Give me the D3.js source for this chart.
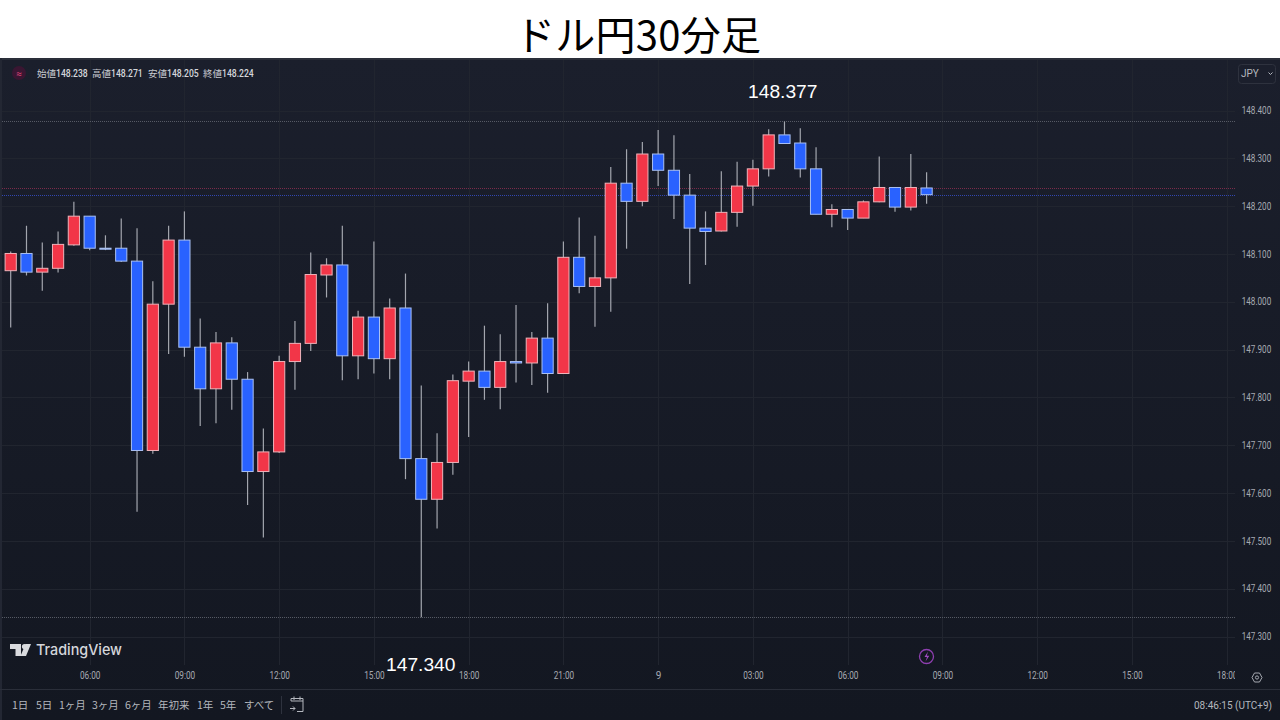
<!DOCTYPE html>
<html><head><meta charset="utf-8">
<style>html,body{margin:0;padding:0;background:#fff;overflow:hidden}svg{display:block}</style>
<script src="https://cdn.jsdelivr.net/npm/d3@7"></script></head>
<body><svg id="c" width="1280" height="720"></svg>
<script>
const titleText = "ドル円30分足";
const opens = [148.065,148.101,148.062,148.070,148.119,148.179,148.112,148.112,148.085,147.689,147.995,148.129,147.905,147.818,147.914,147.838,147.645,147.686,147.875,147.913,148.056,148.077,147.887,147.968,147.881,147.987,147.672,147.587,147.664,147.834,147.855,147.821,147.875,147.872,147.924,147.850,148.093,148.032,148.050,148.248,148.210,148.309,148.275,148.223,148.154,148.148,148.187,148.242,148.278,148.349,148.332,148.278,148.183,148.193,148.175,148.209,148.239,148.198,148.238];
const highs = [148.105,148.159,148.124,148.147,148.209,148.179,148.139,148.174,148.154,148.043,148.159,148.189,147.965,147.937,147.926,147.853,147.735,147.887,147.960,148.103,148.091,148.159,147.981,148.126,148.007,148.059,147.825,147.725,147.848,147.875,147.950,147.932,147.993,147.937,147.997,148.126,148.176,148.138,148.282,148.319,148.334,148.359,148.348,148.267,148.189,148.273,148.293,148.297,148.361,148.377,148.363,148.323,148.204,148.193,148.212,148.304,148.239,148.309,148.271];
const lows = [147.946,148.055,148.023,148.061,148.117,148.108,148.108,148.083,147.561,147.682,147.891,147.885,147.740,147.746,147.774,147.575,147.507,147.684,147.816,147.897,148.009,147.836,147.838,147.850,147.838,147.629,147.340,147.526,147.638,147.717,147.795,147.775,147.831,147.826,147.810,147.850,148.018,147.948,147.979,148.111,148.200,148.242,148.173,148.037,148.077,148.147,148.157,148.201,148.262,148.331,148.260,148.183,148.156,148.150,148.175,148.208,148.188,148.191,148.205];
const closes = [148.101,148.062,148.070,148.120,148.179,148.112,148.111,148.085,147.689,147.995,148.129,147.905,147.818,147.914,147.838,147.645,147.686,147.875,147.913,148.057,148.077,147.887,147.968,147.881,147.987,147.672,147.587,147.664,147.835,147.855,147.821,147.875,147.872,147.924,147.850,148.093,148.032,148.050,148.248,148.210,148.309,148.275,148.223,148.154,148.147,148.187,148.242,148.278,148.349,148.331,148.278,148.183,148.193,148.175,148.209,148.239,148.198,148.239,148.224];
const priceTicks = [148.4,148.3,148.2,148.1,148.0,147.9,147.8,147.7,147.6,147.5,147.4,147.3];
const timeTickIndex = [5,11,17,23,29,35,41,47,53,59,65,71,77];
const timeTickLabels = ["06:00","09:00","12:00","15:00","18:00","21:00","9","03:00","06:00","09:00","12:00","15:00","18:00"];
const maxLabel = "148.377", minLabel = "147.340";
const maxLevel = 148.377, minLevel = 147.340, openLevel = 148.238, closeLevel = 148.224;
const legendNames = ["始値","高値","安値","終値"];
const legendValues = ["148.238","148.271","148.205","148.224"];
const rangeButtons = ["1日","5日","1ヶ月","3ヶ月","6ヶ月","年初来","1年","5年","すべて"];
const clockText = "08:46:15 (UTC+9)";

const svg = d3.select("#c");
const UI = "Roboto, 'Noto Sans CJK JP', sans-serif";
const JP = "'Noto Sans CJK JP', Roboto, sans-serif";
const defs = svg.append("defs");
const g = defs.append("linearGradient").attr("id","bg").attr("x1",0).attr("x2",0).attr("y1",0).attr("y2",1);
g.append("stop").attr("offset","0%").attr("stop-color","#1b1f2c");
g.append("stop").attr("offset","100%").attr("stop-color","#131721");
defs.append("clipPath").attr("id","timeClip").append("rect").attr("x",0).attr("y",660).attr("width",1235).attr("height",30);

const x = d3.scaleLinear().domain([0,58]).range([10.7,926.6]);
const y = d3.scaleLinear().domain([147.3,148.4]).range([636.5,110.5]);

svg.append("rect").attr("x",0).attr("y",0).attr("width",1280).attr("height",58).attr("fill","#fff");
svg.append("rect").attr("x",0).attr("y",58).attr("width",1280).attr("height",662).attr("fill","url(#bg)");
svg.append("rect").attr("x",0).attr("y",58).attr("width",1280).attr("height",2).attr("fill","#2a2e39");
svg.append("rect").attr("x",0).attr("y",58).attr("width",2).attr("height",662).attr("fill","#232733");

svg.append("text").attr("x",515).attr("y",50)
  .attr("font-family",JP).attr("font-size",40).attr("textLength",246).attr("lengthAdjust","spacing").attr("fill","#000").text(titleText);

// grid
svg.append("g").selectAll("line").data(priceTicks).join("line")
  .attr("x1",2).attr("x2",1235).attr("y1",d=>Math.round(y(d))+.5).attr("y2",d=>Math.round(y(d))+.5)
  .attr("stroke","#21252f").attr("stroke-width",1);
svg.append("g").selectAll("line").data(timeTickIndex).join("line")
  .attr("y1",60).attr("y2",665).attr("x1",d=>Math.round(x(d))+.5).attr("x2",d=>Math.round(x(d))+.5)
  .attr("stroke","#21252f").attr("stroke-width",1);

// level lines
const levels = [[maxLevel,"#565a65"],[minLevel,"#565a65"],[openLevel,"#7a2b4a"],[closeLevel,"#3146b0"]];
svg.append("g").selectAll("line").data(levels).join("line")
  .attr("x1",2).attr("x2",1235).attr("y1",d=>Math.round(y(d[0]))+.5).attr("y2",d=>Math.round(y(d[0]))+.5)
  .attr("stroke",d=>d[1]).attr("stroke-width",1).attr("stroke-dasharray","1 1");

// candles
const idx = d3.range(opens.length);
const up = i => closes[i] >= opens[i];
svg.append("g").selectAll("line").data(idx).join("line")
  .attr("x1",i=>x(i)).attr("x2",i=>x(i)).attr("y1",i=>y(highs[i])).attr("y2",i=>y(lows[i]))
  .attr("stroke","#a3a6ae").attr("stroke-width",1.2);
svg.append("g").selectAll("rect").data(idx).join("rect")
  .attr("x",i=>x(i)-5.6).attr("width",11.2)
  .attr("y",i=>y(Math.max(opens[i],closes[i])))
  .attr("height",i=>Math.max(1,Math.abs(y(opens[i])-y(closes[i]))))
  .attr("fill",i=>up(i)?"#f23648":"#2962ff")
  .attr("stroke",i=>up(i)?"#eeb3ba":"#a9c0f2").attr("stroke-width",1);

// axes
const yAxis = d3.axisRight(y).tickValues(priceTicks).tickSize(0).tickPadding(0).tickFormat(d3.format(".3f"));
const ya = svg.append("g").attr("transform","translate(1241.7,0)").call(yAxis);
ya.select(".domain").remove();
ya.selectAll("text").attr("font-family",UI).attr("font-size",10).attr("fill","#a6a9b1")
  .attr("textLength",29.5).attr("lengthAdjust","spacingAndGlyphs");
const xAxis = d3.axisBottom(x).tickValues(timeTickIndex).tickSize(0).tickPadding(0).tickFormat((d,i)=>timeTickLabels[i]);
const xwrap = svg.append("g").attr("clip-path","url(#timeClip)");
const xa = xwrap.append("g").attr("transform","translate(0,672)").call(xAxis);
xa.select(".domain").remove();
xa.selectAll("text").attr("font-family",UI).attr("font-size",10).attr("fill","#a6a9b1")
  .each(function(d,i){ if(timeTickLabels[i].length>1) d3.select(this).attr("textLength",20.5).attr("lengthAdjust","spacingAndGlyphs"); });

// legend
svg.append("circle").attr("cx",19).attr("cy",73).attr("r",7).attr("fill","#3a1632");
svg.append("text").attr("x",19).attr("y",76.5).attr("text-anchor","middle").attr("font-size",10).attr("font-family",UI).attr("fill","#e0457b").text("≈");
const legendX = [37,92,148,203];
legendNames.forEach((n,i)=>{
  svg.append("text").attr("x",legendX[i]).attr("y",77).attr("font-family",JP).attr("font-size",9.5).attr("fill","#c8cad0").text(n);
  svg.append("text").attr("x",legendX[i]+19).attr("y",77).attr("font-family",UI).attr("font-weight",500).attr("font-size",10)
    .attr("textLength",31.7).attr("lengthAdjust","spacingAndGlyphs").attr("fill","#d4d6db").text(legendValues[i]);
});

// annotations
const ann = (t,cx,by)=>svg.append("text").attr("x",cx).attr("y",by)
  .attr("font-family","'Liberation Sans', sans-serif").attr("font-size",18.5)
  .attr("textLength",69.5).attr("lengthAdjust","spacingAndGlyphs").attr("fill","#fff").text(t);
ann(maxLabel,748,98); ann(minLabel,386,671);

// JPY
svg.append("rect").attr("x",1238.5).attr("y",64.5).attr("width",37).attr("height",19).attr("rx",3).attr("fill","#1b1f2c").attr("stroke","#2e323e");
svg.append("text").attr("x",1241).attr("y",77).attr("font-family",UI).attr("font-size",10).attr("fill","#b4b7be").text("JPY");
svg.append("path").attr("d","M1268.5 72.5l2 2 2-2").attr("fill","none").attr("stroke","#b4b7be").attr("stroke-width",1);

// logo
svg.append("path").attr("fill","#d9dade").attr("d","M10 644H21V656H15.5V649H10Z");
svg.append("circle").attr("cx",24.5).attr("cy",646.5).attr("r",2.6).attr("fill","#d9dade");
svg.append("path").attr("fill","#d9dade").attr("d","M25.5 644H31L26 656H20.5Z");
svg.append("text").attr("x",36).attr("y",655).attr("font-family","Inter, Roboto, sans-serif").attr("font-weight",500).attr("font-size",15).attr("textLength",86).attr("lengthAdjust","spacingAndGlyphs").attr("fill","#d4d6db").text("TradingView");

// bolt
svg.append("circle").attr("cx",926.5).attr("cy",656.5).attr("r",7).attr("fill","none").attr("stroke","#8e3fb0").attr("stroke-width",1.3);
svg.append("path").attr("d","M928 651.5l-3.5 5.5h2.5l-1.5 4.5 3.8-5.8h-2.5z").attr("fill","#a04cc4");

// settings
svg.append("path").attr("d","M1254.5 673h5l2.5 4.5-2.5 4.5h-5l-2.5-4.5z").attr("fill","none").attr("stroke","#a6a9b1").attr("stroke-width",1);
svg.append("circle").attr("cx",1257).attr("cy",677.5).attr("r",1.6).attr("fill","none").attr("stroke","#a6a9b1");

// footer
svg.append("line").attr("x1",0).attr("x2",1280).attr("y1",689.5).attr("y2",689.5).attr("stroke","#2a2e39");
const btnX = [12,36,59,92,125,158,197,220,244];
rangeButtons.forEach((b,i)=>svg.append("text").attr("x",btnX[i]).attr("y",709).attr("font-family",JP).attr("font-size",10.5).attr("fill","#b4b7be").text(b));
svg.append("line").attr("x1",281.5).attr("x2",281.5).attr("y1",696).attr("y2",714).attr("stroke","#2e323e");
svg.append("path").attr("d","M291 701V698.5H303V711.5H297M291 701H303M294 696.5V700M300 696.5V700M290 708.5H295M293 706.5l2 2-2 2").attr("fill","none").attr("stroke","#b4b7be").attr("stroke-width",1);
svg.append("text").attr("x",1194).attr("y",709).attr("font-family",UI).attr("font-size",10.5)
  .attr("textLength",78).attr("lengthAdjust","spacingAndGlyphs").attr("fill","#b4b7be").text(clockText);
</script></body></html>
